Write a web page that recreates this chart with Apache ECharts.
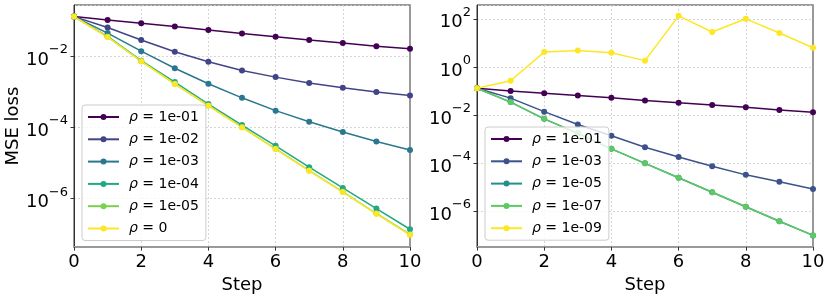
<!DOCTYPE html>
<html><head><meta charset="utf-8">
<script src="https://cdn.jsdelivr.net/npm/echarts@6/dist/echarts.min.js"></script>
<style>html,body{margin:0;padding:0;background:#fff}#c{width:830px;height:299px}</style>
</head><body><div id="c"></div><script>
// ---- data ----
const steps = [0, 1, 2, 3, 4, 5, 6, 7, 8, 9, 10];

const leftLabels = ['1e-01', '1e-02', '1e-03', '1e-04', '1e-05', '0'];
const leftColors = ['#440154', '#414487', '#2a788e', '#22a884', '#7ad151', '#fde725'];
const left_rho_1e01 = [0.128, 0.103, 0.0836, 0.0675, 0.0535, 0.0433, 0.0350, 0.0283, 0.0234, 0.0189, 0.0160];
const left_rho_1e02 = [0.128, 0.0634, 0.0283, 0.0132, 0.00697, 0.00393, 0.00257, 0.00175, 0.00130, 0.000989, 0.000783];
const left_rho_1e03 = [0.128, 0.0442, 0.01374, 0.00456, 0.00168, 0.000675, 0.000295, 0.000144, 7.43e-5, 4.02e-5, 2.31e-5];
const left_rho_1e04 = [0.128, 0.0357, 0.00743, 0.00187, 0.000451, 0.000116, 3.05e-5, 7.67e-6, 2.01e-6, 5.30e-7, 1.39e-7];
const left_rho_1e05 = [0.128, 0.0346, 0.00720, 0.00167, 0.000410, 1.02e-4, 2.51e-5, 6.17e-6, 1.56e-6, 3.84e-7, 9.9e-8];
const left_rho_0    = [0.128, 0.0343, 0.00713, 0.00165, 0.000405, 1.00e-4, 2.47e-5, 6.07e-6, 1.53e-6, 3.77e-7, 9.68e-8];
const leftSeriesValues = [left_rho_1e01, left_rho_1e02, left_rho_1e03, left_rho_1e04, left_rho_1e05, left_rho_0];

const rightLabels = ['1e-01', '1e-03', '1e-05', '1e-07', '1e-09'];
const rightColors = ['#440154', '#3b528b', '#21918c', '#5ec962', '#fde725'];
const right_rho_1e01 = [0.129, 0.100, 0.0802, 0.0643, 0.0515, 0.0401, 0.0321, 0.0258, 0.0207, 0.0160, 0.0129];
const right_rho_1e03 = [0.129, 0.0500, 0.0137, 0.00401, 0.00137, 0.000455, 0.000177, 7.3e-5, 3.21e-5, 1.66e-5, 8.28e-6];
const right_rho_1e05 = [0.129, 0.0342, 0.00686, 0.00171, 0.000388, 9.68e-5, 2.42e-5, 6.04e-6, 1.51e-6, 3.76e-7, 9.68e-8];
const right_rho_1e07 = [0.129, 0.0342, 0.00686, 0.00171, 0.000388, 9.68e-5, 2.42e-5, 6.04e-6, 1.51e-6, 3.76e-7, 9.68e-8];
const right_rho_1e09 = [0.129, 0.266, 4.13, 4.84, 3.88, 1.82, 133, 28.3, 100, 25.8, 6.23];
const rightSeriesValues = [right_rho_1e01, right_rho_1e03, right_rho_1e05, right_rho_1e07, right_rho_1e09];

const xTicks = [0, 2, 4, 6, 8, 10];

// ---- chart ----
const FF = 'DejaVu Sans';
const leftYRange = [Math.pow(10, -7.358), Math.pow(10, -0.567)];
const rightYRange = [Math.pow(10, -7.50), Math.pow(10, 2.575)];

function supLabel(v) {
  const e = Math.round(Math.log10(v));
  return '{b|10}{s|' + (e < 0 ? '\u2212' : '') + Math.abs(e) + '}';
}
const supRich = {
  b: { fontSize: 18, fontFamily: FF, color: '#000', lineHeight: 26, verticalAlign: 'bottom' },
  s: { fontSize: 13, fontFamily: FF, color: '#000', lineHeight: 16, verticalAlign: 'top' }
};
const gridLine = { show: true, lineStyle: { color: '#cccccc', type: [2, 2], width: 0.8 } };

function logAxis(gi, range, name) {
  return {
    gridIndex: gi, type: 'log', logBase: 100, min: range[0], max: range[1],
    axisLine: { show: true, lineStyle: { color: '#333', width: 1 } },
    axisTick: { show: true, length: 3.5, lineStyle: { color: '#333' } },
    axisLabel: { formatter: supLabel, rich: supRich, margin: 6, showMinLabel: false, showMaxLabel: false },
    splitLine: gridLine,
    name: name, nameLocation: 'middle', nameGap: 52,
    nameTextStyle: { fontSize: 18, fontFamily: FF, color: '#000' }
  };
}
function rightSpine(gi) {
  return {
    gridIndex: gi, type: 'value', position: 'right', min: 0, max: 1,
    axisLine: { show: true, onZero: false, lineStyle: { color: '#999', width: 2 } },
    axisTick: { show: false }, axisLabel: { show: false }, splitLine: { show: false }
  };
}
function xAxis(gi) {
  return {
    gridIndex: gi, type: 'value', min: xTicks[0], max: xTicks[xTicks.length - 1],
    interval: xTicks[1] - xTicks[0],
    axisLine: { show: true, onZero: false, lineStyle: { color: '#999', width: 2 } },
    axisTick: { show: true, length: 3.5, lineStyle: { color: '#333' } },
    axisLabel: { fontSize: 18, fontFamily: FF, color: '#000', margin: 6 },
    splitLine: gridLine,
    name: 'Step', nameLocation: 'middle', nameGap: 24,
    nameTextStyle: { fontSize: 18, fontFamily: FF, color: '#000' }
  };
}

const nameMap = {};
const series = [];
leftSeriesValues.forEach((vals, i) => {
  const n = 'L' + i; nameMap[n] = leftLabels[i];
  series.push({ name: n, type: 'line', xAxisIndex: 0, yAxisIndex: 0,
    data: steps.map((s, k) => [s, vals[k]]), symbol: 'circle', symbolSize: 6,
    lineStyle: { width: 1.5, color: leftColors[i] }, itemStyle: { color: leftColors[i] },
    emphasis: { disabled: true } });
});
rightSeriesValues.forEach((vals, i) => {
  const n = 'R' + i; nameMap[n] = rightLabels[i];
  series.push({ name: n, type: 'line', xAxisIndex: 1, yAxisIndex: 2,
    data: steps.map((s, k) => [s, vals[k]]), symbol: 'circle', symbolSize: 6,
    lineStyle: { width: 1.5, color: rightColors[i] }, itemStyle: { color: rightColors[i] },
    emphasis: { disabled: true } });
});

function legend(names, left, top) {
  return {
    data: names, orient: 'vertical', left: left, top: top,
    itemWidth: 31, itemHeight: 7.5, itemGap: 8.3,
    padding: [5, 7, 5, 5],
    backgroundColor: 'rgba(255,255,255,0.8)', borderColor: '#cccccc', borderWidth: 1, borderRadius: 3,
    selectedMode: false,
    formatter: n => '{i|\u03c1}{t| = ' + nameMap[n] + '}',
    textStyle: { fontSize: 14, fontFamily: FF, color: '#000', padding: [0, 0, 0, 5], lineHeight: 14,
      rich: { i: { fontSize: 14, fontFamily: FF, fontStyle: 'italic', color: '#000', lineHeight: 14 },
              t: { fontSize: 14, fontFamily: FF, color: '#000', lineHeight: 14 } } }
  };
}

const chart = echarts.init(document.getElementById('c'), null, { renderer: 'canvas' });
chart.setOption({
  animation: false,
  backgroundColor: '#fff',
  grid: [
    { left: 74, top: 5, width: 336, height: 245, show: true, borderColor: '#333', borderWidth: 1 },
    { left: 477, top: 5, width: 336, height: 245, show: true, borderColor: '#333', borderWidth: 1 }
  ],
  xAxis: [xAxis(0), xAxis(1)],
  yAxis: [logAxis(0, leftYRange, 'MSE loss'), rightSpine(0), logAxis(1, rightYRange, ''), rightSpine(1)],
  legend: [
    legend(leftLabels.map((_, i) => 'L' + i), 82, 105),
    legend(rightLabels.map((_, i) => 'R' + i), 485, 127)
  ],
  series: series
});
</script></body></html>
